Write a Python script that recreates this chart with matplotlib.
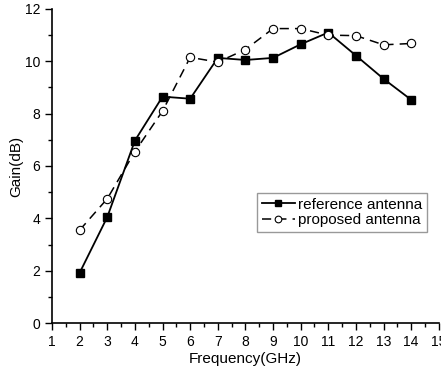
import matplotlib
matplotlib.use("Agg")
import matplotlib.pyplot as plt
from matplotlib.ticker import MultipleLocator

plt.rcParams['font.family'] = ['Liberation Sans', 'DejaVu Sans']

freq = [2, 3, 4, 5, 6, 7, 8, 9, 10, 11, 12, 13, 14]
gain_ref = [1.92, 4.05, 6.97, 8.65, 8.57, 10.13, 10.05, 10.13, 10.65, 11.1, 10.22, 9.33, 8.53]
gain_prop = [3.55, 4.75, 6.55, 8.1, 10.15, 9.97, 10.45, 11.25, 11.25, 11.0, 10.98, 10.63, 10.68]

fig = plt.figure(figsize=(4.41, 3.73), dpi=100)
ax = fig.add_axes([0.118, 0.134, 0.877, 0.842])

ax.plot(freq, gain_ref, '-', color='black', lw=1.3, marker='s', ms=5.5,
        mfc='black', mec='black', label='reference antenna')
ax.plot(freq, gain_prop, '--', color='black', lw=1.1, marker='o', ms=6,
        mfc='white', mec='black', mew=0.8, dashes=(6, 4), label='proposed antenna')

ax.set_xlim(1, 15)
ax.set_ylim(0, 12)
ax.xaxis.set_major_locator(MultipleLocator(1))
ax.xaxis.set_minor_locator(MultipleLocator(0.5))
ax.yaxis.set_major_locator(MultipleLocator(2))
ax.yaxis.set_minor_locator(MultipleLocator(1))
ax.tick_params(which='both', direction='out', labelsize=10, width=1)
ax.tick_params(which='major', length=5)
ax.tick_params(which='minor', length=3)
ax.spines['top'].set_visible(False)
ax.spines['right'].set_visible(False)
ax.spines['left'].set_linewidth(1.2)
ax.spines['bottom'].set_linewidth(1.2)

ax.set_xlabel('Frequency(GHz)', fontsize=11, labelpad=2)
ax.set_ylabel('Gain(dB)', fontsize=11, labelpad=1)

ax.legend(loc='lower right', bbox_to_anchor=(0.97, 0.29), fontsize=11, frameon=True,
          fancybox=False, edgecolor='gray', handlelength=2.2, handletextpad=0.2,
          borderpad=0.3, labelspacing=0.1, borderaxespad=0, markerscale=0.8)

fig.savefig('out.png', dpi=100)
